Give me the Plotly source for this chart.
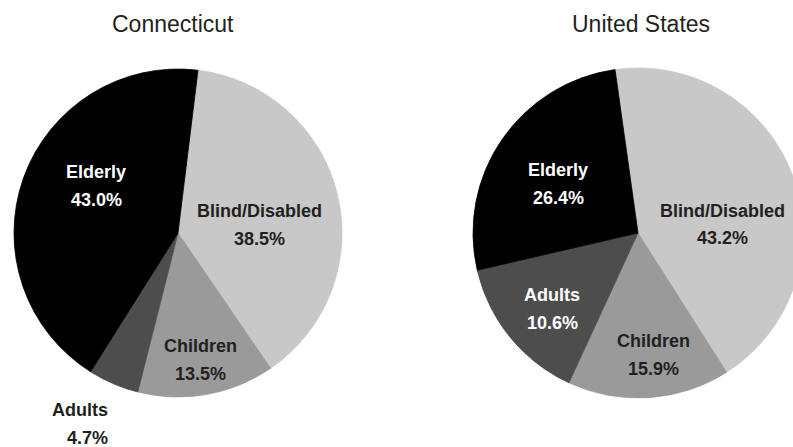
import plotly.graph_objects as go

# ---- data ----
categories = ["Blind/Disabled", "Children", "Adults", "Elderly"]
ct_values = [38.5, 13.5, 4.7, 43.0]
us_values = [43.2, 15.9, 10.6, 26.4]
titles = ["Connecticut", "United States"]

# ---- style ----
slice_colors = {"Blind/Disabled": "#c8c8c8", "Children": "#9a9a9a",
                "Adults": "#4d4d4d", "Elderly": "#000000"}
text_colors = {"Blind/Disabled": "#231f20", "Children": "#231f20",
               "Adults": "#ffffff", "Elderly": "#ffffff"}
W, H = 805, 447
LABEL_FONT = "Liberation Sans, Arial, Helvetica, sans-serif"
TITLE_FONT = "Liberation Sans, Arial, Helvetica, sans-serif"
DARK = "#231f20"
LABEL_SIZE = 18
HALF_GAP = 14  # half the distance between the two label lines, px

# pie boxes in pixels (x0, x1, y0_top, y1_bottom)
boxes = [(14, 342, 69, 397), (473, 803, 68, 398)]
rotations = [7, -8]
# label placement (offset of text block from pie centre, px) and anchoring
label_offsets = [
    {"Blind/Disabled": (81, -8, "center"), "Children": (22, 126.5, "center"),
     "Adults": (-68, 190.5, "right"), "Elderly": (-82, -47.5, "center")},
    {"Blind/Disabled": (84, -8.5, "center"), "Children": (15, 122, "center"),
     "Adults": (-86, 76, "center"), "Elderly": (-80, -49, "center")},
]
outside_label = [{"Adults"}, set()]


def build_pie(values, box, rotation):
    # slices clockwise; the unlabelled remainder (to 100%) is drawn in the Adults shade
    remainder = round(100 - sum(values), 1)
    labels = categories[:3] + [" "] + categories[3:]
    vals = values[:3] + [remainder] + values[3:]
    colors = [slice_colors[c] for c in categories[:3]] + [slice_colors["Adults"], slice_colors["Elderly"]]
    x0, x1, yt, yb = box
    return go.Pie(
        labels=labels, values=vals, sort=False, direction="clockwise",
        rotation=rotation,
        domain=dict(x=[x0 / W, x1 / W], y=[1 - yb / H, 1 - yt / H]),
        marker=dict(colors=colors, line=dict(color=colors, width=0.8)),
        textinfo="none", showlegend=False, hoverinfo="label+value",
    )


fig = go.Figure()
for values, box, rot, offs, outs, title in zip([ct_values, us_values], boxes, rotations,
                                               label_offsets, outside_label, titles):
    fig.add_trace(build_pie(values, box, rot))
    cx = (box[0] + box[1]) / 2
    cy = (box[2] + box[3]) / 2
    for cat, val in zip(categories, values):
        dx, dy, anchor = offs[cat]
        color = DARK if cat in outs else text_colors[cat]
        for line, shift in ((cat, -HALF_GAP), (f"{val:.1f}%", HALF_GAP)):
            fig.add_annotation(
                text=f"<b>{line}</b>",
                x=(cx + dx) / W, y=1 - (cy + dy + shift) / H, xref="paper", yref="paper",
                xanchor=anchor, yanchor="middle", showarrow=False,
                font=dict(family=LABEL_FONT, size=LABEL_SIZE, color=color),
            )

for t, xc in zip(titles, [172.5, 641]):
    fig.add_annotation(text=t, x=xc / W, y=1 - 24 / H, xref="paper", yref="paper",
                       xanchor="center", yanchor="middle", showarrow=False,
                       font=dict(family=TITLE_FONT, size=23, color=DARK))

fig.update_layout(
    width=W, height=H, margin=dict(l=0, r=0, t=0, b=0),
    paper_bgcolor="white", plot_bgcolor="white",
)

fig.write_html("out.html", config={"displayModeBar": False},
               post_script="document.body.style.margin='0';document.body.style.overflow='hidden';")
